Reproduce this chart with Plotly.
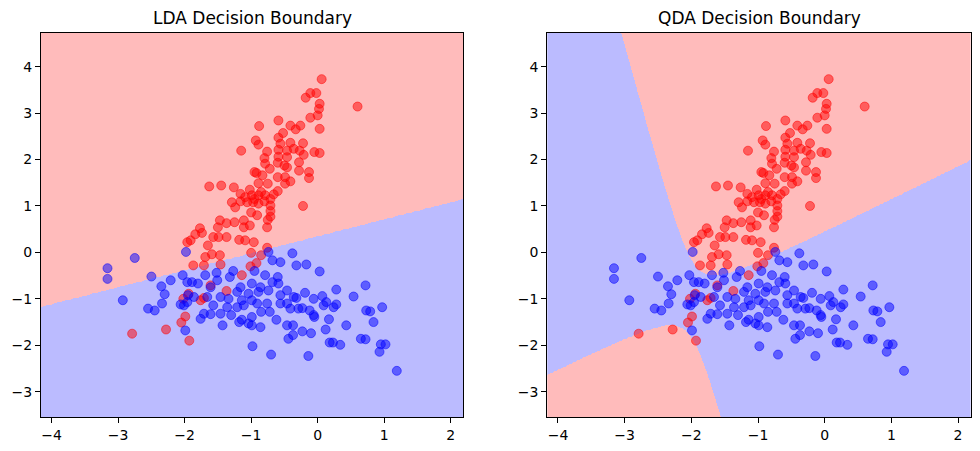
import numpy as np
import plotly.graph_objects as go

# ---- data (class 0 = red, class 1 = blue) ----
red_x = [0.06, -0.11, -0.02, -0.18, 0.03, 0.02, 0.00, -0.11, 0.60, 0.03, -0.26, -0.33, -0.41, -0.41, -0.22,
         -0.27, -0.21, -0.05, 0.03, -0.36, -0.28,
         -0.59, -0.88, -0.52, -0.59, -0.93, -0.89, -0.56, -1.15, -0.76, -0.59, -0.46, -0.80, -0.59, -0.46,
         -0.79, -0.60, -0.50, -0.72, -0.95, -0.92, -0.83, -0.60, -0.49, -0.46,
         -1.63, -1.45, -1.26, -1.02, -0.89, -0.75, -0.60, -0.49, -1.16, -1.09, -0.99, -0.89, -0.79, -0.71,
         -1.29, -1.16, -1.06, -0.97, -0.89, -0.71, -1.24, -0.71, -1.00, -0.91, -0.71, -0.75, -1.47, -1.37,
         -1.25, -1.11, -1.02, -1.11, -0.76, -1.50, -1.77, -1.74, -1.84, -1.57, -1.49, -1.37, -1.18, -1.09,
         -0.96, -1.91, -1.65, -0.76, -0.85, -0.66, -0.95, -0.80,
         -0.28, -0.13, -0.13, -0.41, -0.22, -1.96,
         -1.69, -1.59, -1.47, -1.71, -1.87, -1.46, -1.00, -0.85, -0.92, -1.01, -1.14, -1.61, -1.37, -1.71,
         -1.76, -1.93, -2.79, -2.28, -1.99, -2.05, -1.94, -2.02]
red_y = [3.73, 3.43, 3.43, 3.33, 3.20, 3.09, 2.95, 2.90, 3.14, 2.66, 2.73, 2.65, 2.73, 2.36, 2.35,
         2.19, 2.10, 2.16, 2.14, 2.23, 1.94,
         2.84, 2.72, 2.57, 2.47, 2.41, 2.32, 2.34, 2.19, 2.17, 2.21, 2.19, 2.03, 2.06, 2.05,
         1.91, 1.93, 1.87, 1.80, 1.73, 1.71, 1.66, 1.62, 1.62, 1.83,
         1.42, 1.44, 1.40, 1.35, 1.49, 1.48, 1.32, 1.48, 1.26, 1.19, 1.23, 1.23, 1.23, 1.15,
         1.08, 1.10, 1.08, 1.08, 1.05, 1.01, 0.97, 0.89, 0.86, 0.80, 0.77, 0.70, 0.69, 0.63,
         0.65, 0.69, 0.58, 0.54, 0.54, 0.54, 0.52, 0.42, 0.39, 0.33, 0.33, 0.33, 0.27, 0.26,
         0.22, 0.26, 0.15, 0.10, 1.30, 1.25, 1.15, 1.10,
         1.76, 1.73, 1.60, 1.53, 1.00, 0.22,
         -0.10, -0.04, -0.06, -0.28, -0.28, -0.26, -0.01, -0.06, -0.23, -0.30, -0.49, -0.71, -0.83, -0.98,
         -1.03, -1.90, -1.75, -1.66, -1.38, -1.51, -0.89, -1.00]

blue_x = [-0.74, -0.68, -0.56, -1.69, -1.52, -1.27, -1.32, -0.95, -0.79, -0.60, -1.89, -1.80, -1.51, -0.68,
          -0.59, -1.61, -0.99, -0.86, -1.16, -1.21, -1.04, -0.89, -0.74, -0.46, -0.56, -1.86, -1.66, -1.46,
          -1.34, -1.14, -0.99, -0.76, -0.56, -0.46, -1.57, -1.21, -1.11, -0.91, -1.36,
          -1.71, -1.61, -1.46, -1.30, -1.76, -1.43, -1.18, -1.14, -1.04, -0.99, -0.99, -0.86, -0.85, -0.72,
          -0.62, -0.46, -0.44, -0.98, -0.70,
          -3.16, -3.16, -2.93, -2.50, -2.21, -2.35, -2.30, -2.34, -2.55, -2.45, -2.06, -2.01, -2.03, -1.96,
          -1.96, -1.99, -1.95, -2.75, -1.98,
          -0.32, -0.17, 0.03, 0.28, 0.72, 0.54, -0.36, -0.32, -0.19, -0.06, 0.07, 0.13, 0.09, 0.24, 0.28,
          -0.41, -0.29, -0.23, -0.12, -0.06, -0.05, 0.73, 0.79, 0.97, 0.17, 0.84, 0.43, -0.37, -0.23, -0.10,
          0.12, -0.37, 0.18, 0.23, 0.34, 0.65, 0.72, 0.95, 1.02, 0.93, -0.14, 1.19, -0.38]
blue_y = [0.01, -0.17, -0.21, -0.49, -0.44, -0.40, -0.53, -0.40, -0.49, -0.53, -0.64, -0.67, -0.60, -0.64,
          -0.67, -0.75, -0.67, -0.75, -0.75, -0.85, -0.89, -0.85, -0.82, -0.82, -0.92, -0.96, -0.96, -0.96,
          -1.00, -1.03, -1.03, -1.10, -1.10, -1.10, -1.14, -1.18, -1.14, -1.10, -1.18,
          -1.32, -1.33, -1.32, -1.35, -1.43, -1.57, -1.50, -1.45, -1.53, -1.57, -1.39, -1.61, -1.28, -1.28,
          -1.45, -1.57, -1.86, -2.02, -2.20,
          -0.34, -0.57, -1.03, -0.52, -0.60, -0.73, -0.90, -1.10, -1.21, -1.25, -1.12, -1.14, -0.49, -0.64,
          -1.07, -1.68, -0.92, -0.12, 0.01,
          -0.28, -0.26, -0.41, -0.80, -0.71, -0.95, -0.96, -0.98, -0.87, -1.00, -0.94, -1.07, -1.14, -1.18, -1.12,
          -1.21, -1.21, -1.20, -1.25, -1.35, -1.39, -1.25, -1.27, -1.18, -1.44, -1.50, -1.57, -1.57, -1.70, -1.74,
          -1.66, -1.78, -1.94, -1.94, -1.99, -1.86, -1.87, -1.98, -1.98, -2.14, -2.23, -2.55, -0.02]

titles = ["LDA Decision Boundary", "QDA Decision Boundary"]

# ---- fit LDA / QDA with numpy ----
Xr = np.column_stack([red_x, red_y])
Xb = np.column_stack([blue_x, blue_y])
classes = [Xr, Xb]
n_tot = len(Xr) + len(Xb)
means = [c.mean(axis=0) for c in classes]
covs = [np.cov(c.T) for c in classes]
priors = [len(c) / n_tot for c in classes]
pooled = sum((len(c) - 1) * S for c, S in zip(classes, covs)) / (n_tot - 2)

x_min, x_max = min(red_x + blue_x) - 1, max(red_x + blue_x) + 1
y_min, y_max = min(red_y + blue_y) - 1, max(red_y + blue_y) + 1
h = 0.015
gx = np.arange(x_min, x_max, h)
gy = np.arange(y_min, y_max, h)
XX, YY = np.meshgrid(gx, gy)
P = np.column_stack([XX.ravel(), YY.ravel()])


def score(P, mu, S, prior):
    Si = np.linalg.inv(S)
    d = P - mu
    return -0.5 * np.einsum('ij,jk,ik->i', d, Si, d) - 0.5 * np.log(np.linalg.det(S)) + np.log(prior)


lda = np.argmax(np.column_stack([score(P, m, pooled, p) for m, p in zip(means, priors)]), axis=1)
qda = np.argmax(np.column_stack([score(P, m, S, p) for m, S, p in zip(means, covs, priors)]), axis=1)
preds = [lda.reshape(XX.shape), qda.reshape(XX.shape)]

RED_BG = "rgb(255,187,187)"
BLUE_BG = "rgb(187,187,255)"

fig = go.Figure()
for i, Z in enumerate(preds):
    xa = "x" if i == 0 else "x2"
    ya = "y" if i == 0 else "y2"
    fig.add_trace(go.Heatmap(x=gx, y=gy, z=Z, zmin=0, zmax=1, showscale=False,
                             colorscale=[[0, RED_BG], [1, BLUE_BG]], hoverinfo="skip",
                             xaxis=xa, yaxis=ya))
    fig.add_trace(go.Scatter(x=red_x, y=red_y, mode="markers", xaxis=xa, yaxis=ya, showlegend=False,
                             marker=dict(size=9, color="rgba(255,0,0,0.5)",
                                         line=dict(color="rgba(255,0,0,0.5)", width=1))))
    fig.add_trace(go.Scatter(x=blue_x, y=blue_y, mode="markers", xaxis=xa, yaxis=ya, showlegend=False,
                             marker=dict(size=9, color="rgba(0,0,255,0.5)",
                                         line=dict(color="rgba(0,0,255,0.5)", width=1))))

axis_common = dict(showgrid=False, zeroline=False, showline=True, mirror=True, linecolor="black",
                   linewidth=1, ticks="outside", ticklen=5, tickwidth=1, tickcolor="black",
                   tickfont=dict(size=14, color="black"))
dom_left = [41 / 980, 463.3 / 980]
dom_right = [547.3 / 980, 970.7 / 980]
dom_y = [(451 - 417.3) / 451, (451 - 32.7) / 451]

fig.update_layout(
    width=980, height=451, margin=dict(l=0, r=0, t=0, b=0),
    paper_bgcolor="white", plot_bgcolor="white",
    font=dict(family="DejaVu Sans", color="black"),
    xaxis=dict(domain=dom_left, range=[x_min, x_max], tickvals=list(range(-4, 3)), anchor="y", **axis_common),
    yaxis=dict(domain=dom_y, range=[y_min, y_max], tickvals=list(range(-3, 5)), anchor="x", **axis_common),
    xaxis2=dict(domain=dom_right, range=[x_min, x_max], tickvals=list(range(-4, 3)), anchor="y2", **axis_common),
    yaxis2=dict(domain=dom_y, range=[y_min, y_max], tickvals=list(range(-3, 5)), anchor="x2", **axis_common),
    annotations=[
        dict(text=titles[0], x=sum(dom_left) / 2, y=1 - 18 / 451, xref="paper", yref="paper",
             showarrow=False, font=dict(size=17), xanchor="center", yanchor="middle"),
        dict(text=titles[1], x=sum(dom_right) / 2, y=1 - 18 / 451, xref="paper", yref="paper",
             showarrow=False, font=dict(size=17), xanchor="center", yanchor="middle"),
    ],
)

fig.write_html("out.html")
